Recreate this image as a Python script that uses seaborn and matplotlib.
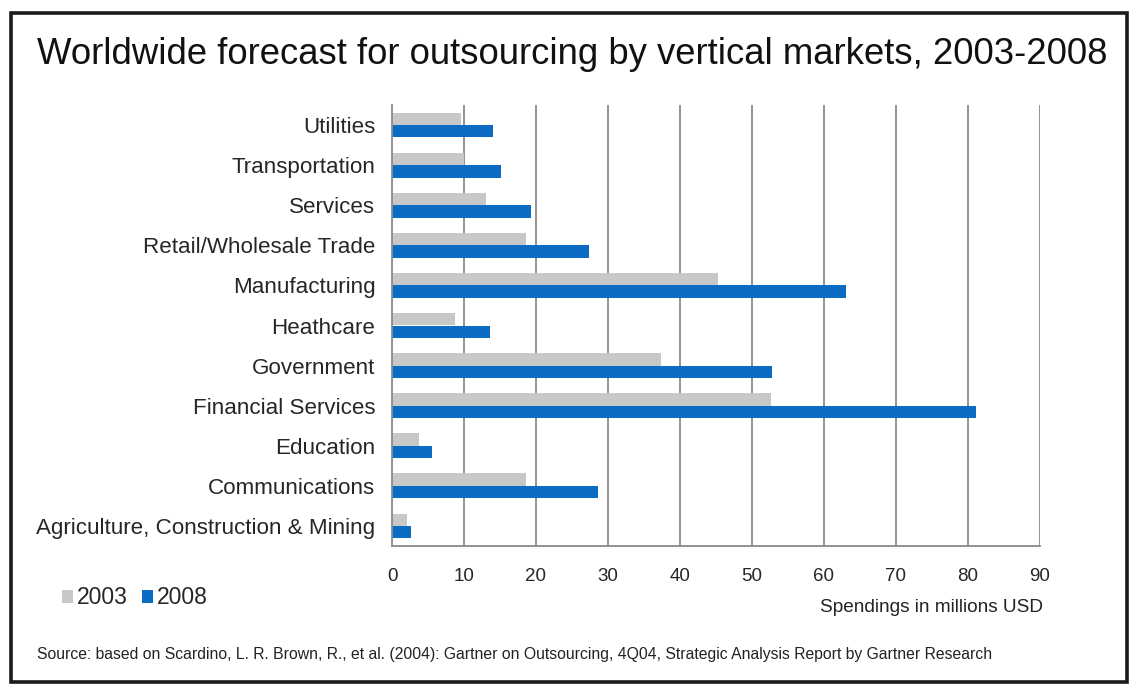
import matplotlib
matplotlib.use("Agg")
import matplotlib.pyplot as plt
from matplotlib.patches import Rectangle
import numpy as np
import pandas as pd
import seaborn as sns

categories = [
    "Utilities",
    "Transportation",
    "Services",
    "Retail/Wholesale Trade",
    "Manufacturing",
    "Heathcare",
    "Government",
    "Financial Services",
    "Education",
    "Communications",
    "Agriculture, Construction & Mining",
]
spend_2003 = [9.6, 10.0, 13.0, 18.6, 45.3, 8.8, 37.4, 52.6, 3.7, 18.6, 2.1]
spend_2008 = [14.0, 15.2, 19.3, 27.4, 63.0, 13.6, 52.8, 81.1, 5.5, 28.6, 2.7]
years = ["2003", "2008"]
x_ticks = list(range(0, 100, 10))

df = pd.DataFrame({
    "Market": categories * 2,
    "Year": [years[0]] * len(categories) + [years[1]] * len(categories),
    "Spend": spend_2003 + spend_2008,
})

sns.set_theme(style="white")
plt.rcParams["font.family"] = ["Liberation Sans", "DejaVu Sans"]

W, H = 1130, 684
fig = plt.figure(figsize=(W / 100, H / 100), dpi=100)
fig.patch.set_facecolor("white")

# plot area in pixel terms
left, right, top, bottom = 392, 1040, 105, 546
ax = fig.add_axes([left / W, 1 - bottom / H, (right - left) / W, (bottom - top) / H])

palette = {"2003": "#c8c8c8", "2008": "#0a6cc2"}
sns.barplot(data=df, y="Market", x="Spend", hue="Year", order=categories,
            hue_order=years, palette=palette, orient="h", width=0.62,
            saturation=1, ax=ax, legend=True, linewidth=0)

grid_c = "#8a8a8a"
ax.set_xlim(0, 90)
ax.set_ylim(len(categories) - 0.5, -0.5)
ax.set_xticks(x_ticks)
ax.set_xticklabels([str(t) for t in x_ticks], fontsize=13.5)
for t in x_ticks[1:]:
    ax.axvline(t, color=grid_c, lw=1.3, zorder=0)

ax.set_yticks(range(len(categories)))
ax.set_yticklabels(categories, fontsize=16.1)
ax.set_yticks(np.arange(-0.5, len(categories), 1.0), minor=True)
ax.tick_params(axis="y", which="major", length=0, pad=12)
ax.tick_params(axis="y", which="minor", length=5, width=1.2, color=grid_c, direction="out")
ax.tick_params(axis="x", which="major", length=5, width=1.2, color=grid_c, direction="out", pad=11)
ax.set_xlabel("")
ax.set_ylabel("")

for s in ["top", "right"]:
    ax.spines[s].set_visible(False)
for s in ["left", "bottom"]:
    ax.spines[s].set_color(grid_c)
    ax.spines[s].set_linewidth(1.3)

handles, labels = ax.get_legend_handles_labels()
ax.get_legend().remove()
fig.legend(handles, labels, loc="center left", bbox_to_anchor=(62 / W, 1 - 598 / H),
           ncol=2, frameon=False, fontsize=16.5, handlelength=0.5, handleheight=0.5,
           handletextpad=0.15, columnspacing=0.6, borderaxespad=0, borderpad=0)

fig.text(37 / W, 1 - 55 / H,
         "Worldwide forecast for outsourcing by vertical markets, 2003-2008",
         ha="left", va="center", fontsize=26.3, color="#111111")
fig.text(1043 / W, 1 - 607 / H, "Spendings in millions USD",
         ha="right", va="center", fontsize=13.7, color="#222222")
fig.text(37 / W, 1 - 655 / H,
         "Source: based on Scardino, L. R. Brown, R., et al. (2004): Gartner on Outsourcing, "
         "4Q04, Strategic Analysis Report by Gartner Research",
         ha="left", va="center", fontsize=11.38, color="#222222")

# outer frame
fig.patches.append(Rectangle((11 / W, 1 - 682 / H), (1127 - 11) / W, (682 - 13) / H,
                             transform=fig.transFigure, fill=False,
                             edgecolor="#1a1a1a", lw=2.6))

fig.savefig("out.png", dpi=100)
